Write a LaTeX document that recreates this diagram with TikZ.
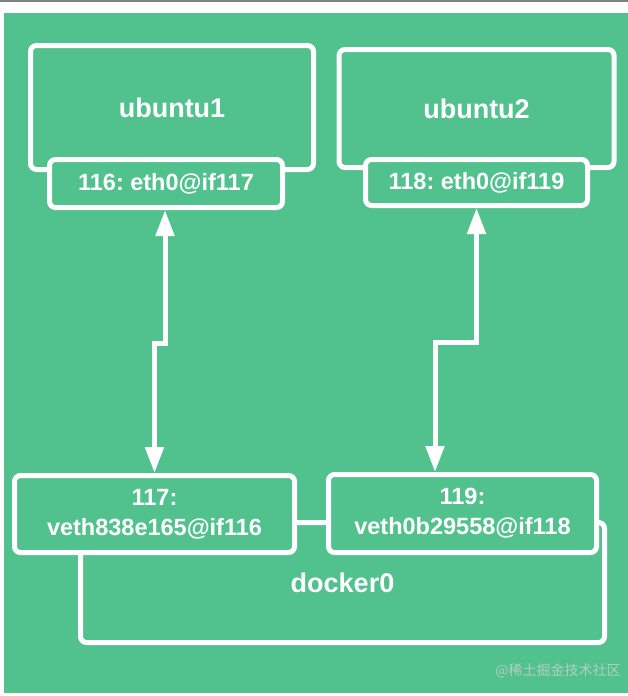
\documentclass[tikz,border=0pt]{standalone}
\usepackage{fontspec}
\setmainfont{Liberation Sans}
\newfontfamily\cjkfont{Noto Sans CJK SC}
\usetikzlibrary{positioning,arrows.meta}
\definecolor{dockgreen}{RGB}{81,194,141}
\definecolor{markgray}{RGB}{178,206,192}
\frenchspacing

\tikzset{
  box/.style={draw=white, line width=5pt, rounded corners=6pt, fill=dockgreen,
    text=white, font=\bfseries\fontsize{27}{30}\selectfont},
  ifbox/.style={box, font=\bfseries\fontsize{23.5}{30}\selectfont, align=center},
  link/.style={draw=white, line width=5pt,
    {Triangle[length=26pt,width=18pt]}-{Triangle[length=26pt,width=18pt]}},
}

\begin{document}
\begin{tikzpicture}[x=1pt,y=-1pt]
  \useasboundingbox (0,0) rectangle (628,696);
  % background
  \fill[white] (0,0) rectangle (628,696);
  \fill[dockgreen] (4,13) rectangle (628,693);
  \draw[gray, line width=1.5pt] (0,0.75) -- (628,0.75);

  % containers
  \node[box, minimum width=283pt, minimum height=124pt] (ubuntu1) at (172,107.5) {ubuntu1};
  \node[ifbox, minimum width=233pt, minimum height=48pt] (eth1) at (166,183.5) {116: eth0@if117};
  \node[box, minimum width=275pt, minimum height=118pt] (ubuntu2) at (476.5,108.5) {ubuntu2};
  \node[ifbox, minimum width=222pt, minimum height=46pt] (eth2) at (476.5,182.5) {118: eth0@if119};

  % bridge and its veth ends
  \node[box, minimum width=524pt, minimum height=120pt] (docker0) at (342.5,582.5) {docker0};
  \node[ifbox, minimum width=280pt, minimum height=77pt] (veth1) at (154.5,514) {117:\\veth838e165@if116};
  \node[ifbox, minimum width=268pt, minimum height=78pt] (veth2) at (462.5,513.5) {119:\\veth0b29558@if118};

  % links
  \draw[link] ([xshift=-1pt]eth1.south) -- ++(0,133) -| (veth1.north);
  \draw[link] (eth2.south) -- ++(0,134) -| ([xshift=-27.5pt]veth2.north);

  \node[font=\cjkfont\fontsize{14}{14}\selectfont, text=markgray] (mark) at (558,671) {@稀土掘金技术社区};
\end{tikzpicture}
\end{document}
